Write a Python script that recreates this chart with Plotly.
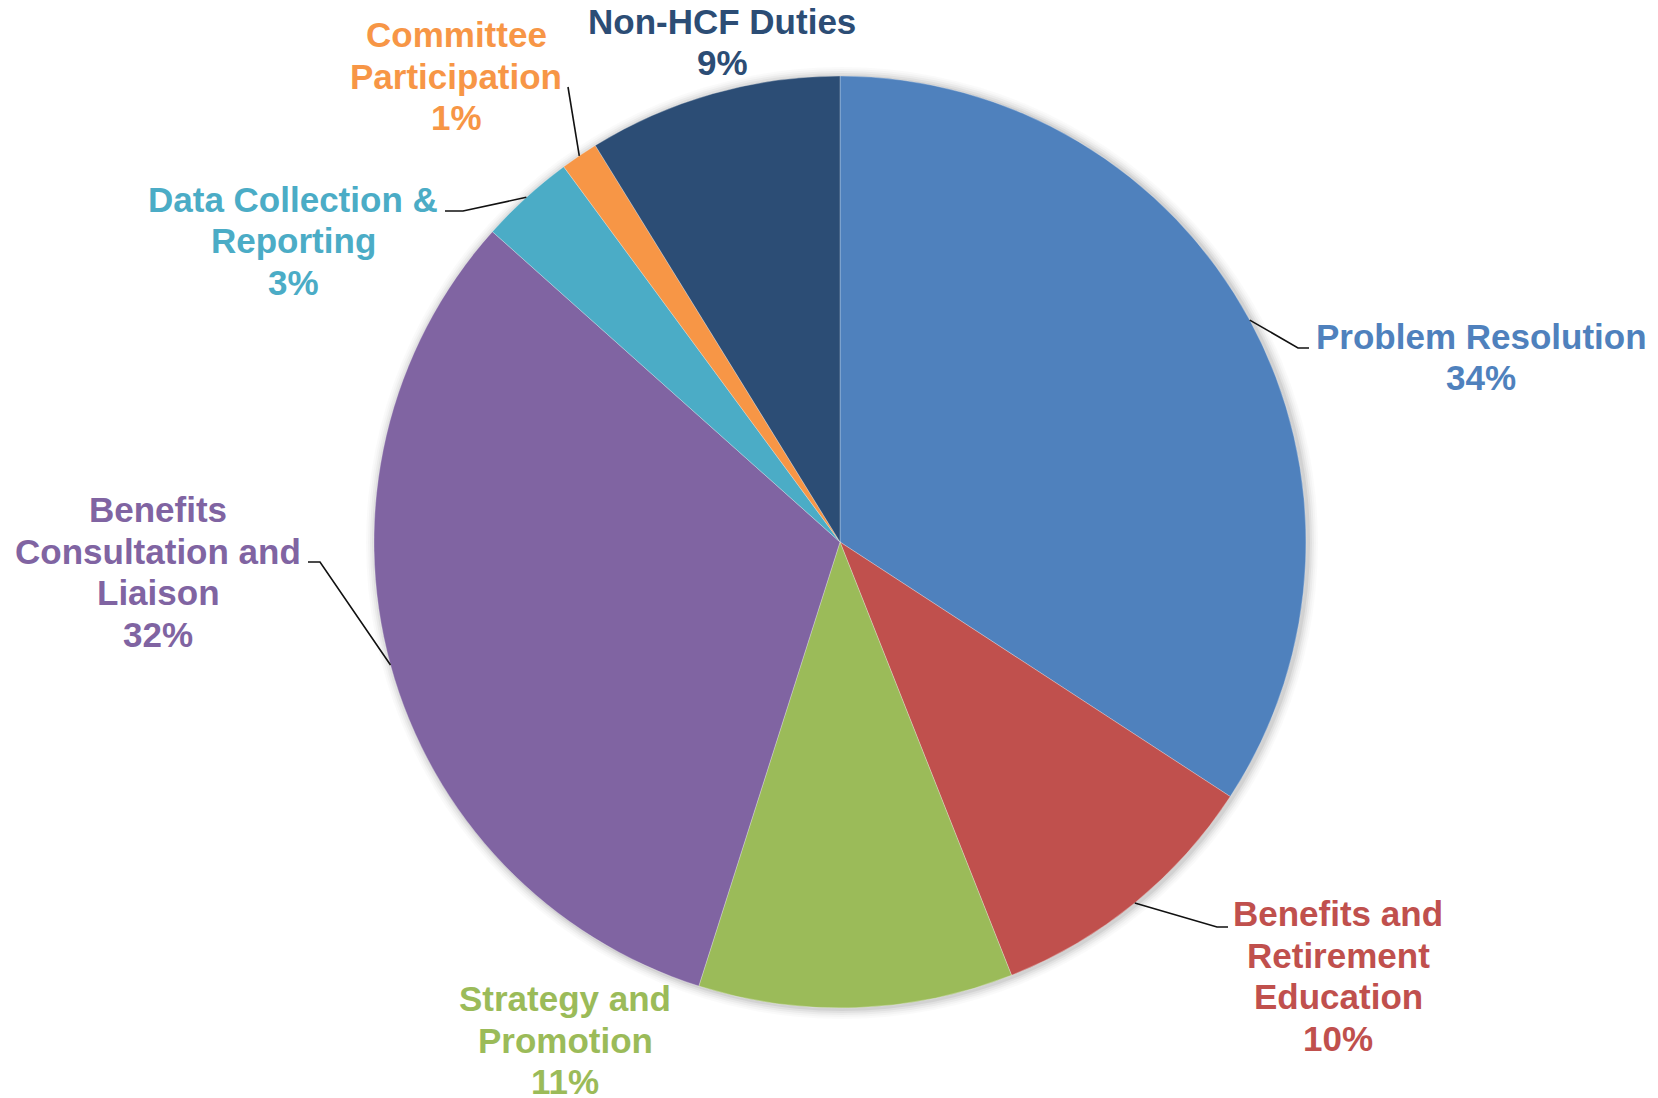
import math
import plotly.graph_objects as go

# ---------------- data ----------------
categories = [
    "Problem Resolution",
    "Benefits and Retirement Education",
    "Strategy and Promotion",
    "Benefits Consultation and Liaison",
    "Data Collection & Reporting",
    "Committee Participation",
    "Non-HCF Duties",
]
label_lines = [
    ["Problem Resolution"],
    ["Benefits and", "Retirement", "Education"],
    ["Strategy and", "Promotion"],
    ["Benefits", "Consultation and", "Liaison"],
    ["Data Collection &", "Reporting"],
    ["Committee", "Participation"],
    ["Non-HCF Duties"],
]
values = [34.2, 9.8, 10.9, 31.7, 3.3, 1.3, 8.8]
colors = ["#4F81BD", "#C0504D", "#9BBB59", "#8064A2", "#4BACC6", "#F79646", "#2C4D75"]

# ---------------- layout geometry (pixels) ----------------
W, H = 1658, 1098
CX, CY, R = 840, 542, 466
LS = 41.5  # line spacing of labels

# label block centres and leader-line elbows (pixel positions, layout only)
label_pos = {
    "Problem Resolution": dict(x=1481, y=357, elbow=[(1298, 348), (1309, 348)]),
    "Benefits and Retirement Education": dict(x=1338, y=976, elbow=[(1217, 927), (1228, 927)]),
    "Strategy and Promotion": dict(x=565, y=1040, elbow=None),
    "Benefits Consultation and Liaison": dict(x=158, y=572, elbow=[(320, 562), (308, 562)], anchor_deg=254.7),
    "Data Collection & Reporting": dict(x=293, y=241, elbow=[(463, 211), (445, 211)]),
    "Committee Participation": dict(x=456, y=76, elbow=[(568, 87)]),
    "Non-HCF Duties": dict(x=722, y=42, elbow=None),
}

FONT = "Liberation Sans, Arial, sans-serif"
FS = 35


def px(x):
    return x / W


def py(y):
    return 1 - y / H


fig = go.Figure()

fig.add_trace(go.Pie(
    labels=categories,
    values=values,
    sort=False,
    direction="clockwise",
    rotation=0,
    textinfo="none",
    marker=dict(colors=colors, line=dict(color="rgba(255,255,255,0.35)", width=0.8)),
    domain=dict(x=[px(CX - R), px(CX + R)], y=[py(CY + R), py(CY - R)]),
    showlegend=False,
    hoverinfo="label+percent",
))

shapes = []
# soft shadow around the pie
for dr, op in [(10, 0.02), (8, 0.025), (6, 0.035), (4, 0.045), (2, 0.06)]:
    ox, oy = 2, 1
    shapes.append(dict(
        type="circle", xref="paper", yref="paper", layer="below",
        x0=px(CX + ox - R - dr), x1=px(CX + ox + R + dr),
        y0=py(CY + oy + R + dr), y1=py(CY + oy - R - dr),
        fillcolor=f"rgba(0,0,0,{op})", line=dict(width=0),
    ))

annotations = []
total = sum(values)
cum = 0.0
for cat, lines, v, col in zip(categories, label_lines, values, colors):
    mid_frac = (cum + v / 2) / total
    cum += v
    pct = round(v / total * 100)
    spec = label_pos[cat]
    all_lines = lines + [f"{pct}%"]
    n = len(all_lines)
    for i, t in enumerate(all_lines):
        yy = spec["y"] + (i - (n - 1) / 2) * LS
        annotations.append(dict(
            x=px(spec["x"]), y=py(yy), xref="paper", yref="paper",
            xanchor="center", yanchor="middle", align="center",
            text=f"<b>{t}</b>", showarrow=False,
            font=dict(family=FONT, size=FS, color=col),
        ))
    if spec["elbow"] is not None:
        ang = math.radians(spec.get("anchor_deg", mid_frac * 360))
        ex, ey = CX + R * math.sin(ang), CY - R * math.cos(ang)
        pts = [(ex, ey)] + spec["elbow"]
        path = "M " + " L ".join(f"{px(a)},{py(b)}" for a, b in pts)
        shapes.append(dict(type="path", xref="paper", yref="paper", path=path,
                           line=dict(color="#111111", width=1.6), layer="above"))

fig.update_layout(
    width=W, height=H,
    margin=dict(l=0, r=0, t=0, b=0),
    paper_bgcolor="white", plot_bgcolor="white",
    shapes=shapes, annotations=annotations,
    showlegend=False,
)

fig.write_html("out.html")
